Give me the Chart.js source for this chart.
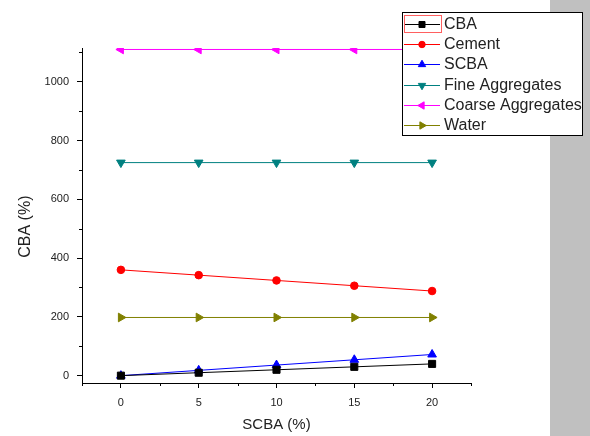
<!DOCTYPE html>
<html>
<head>
<meta charset="utf-8">
<script src="https://cdn.jsdelivr.net/npm/chart.js@4.4.0/dist/chart.umd.min.js"></script>
<style>
  html, body { margin: 0; padding: 0; background: #fff; }
  #wrap { width: 590px; height: 436px; }
</style>
</head>
<body>
<div id="wrap"><canvas id="C" width="590" height="436"></canvas></div>
<script>
const xValues = [0, 5, 10, 15, 20];
const cba = [0, 10, 20, 30, 40];
const cement = [360, 342, 324, 306, 288];
const scba = [0, 18, 36, 54, 72];
const fineAgg = [725, 725, 725, 725, 725];
const coarseAgg = [1110, 1110, 1110, 1110, 1110];
const water = [198, 198, 198, 198, 198];
const yTicks = [0, 200, 400, 600, 800, 1000];
const yMinor = [100, 300, 500, 700, 900, 1100];
const xMinor = [-2.5, 2.5, 7.5, 12.5, 17.5, 22.5];

const font = "'Liberation Sans', Arial, sans-serif";

function series(label, values, color, style, rot, radius) {
  return {
    label: label,
    data: values.map((v, i) => ({ x: xValues[i], y: v })),
    borderColor: color,
    backgroundColor: color,
    borderWidth: 1,
    pointStyle: style,
    rotation: rot,
    pointRadius: radius,
    pointBorderWidth: 1,
    tension: 0
  };
}

const datasets = [
  series("CBA", cba, "#000000", "rect", 0, 5),
  series("Cement", cement, "#ff0000", "circle", 0, 3.8),
  series("SCBA", scba, "#0000ff", "triangle", 0, 5),
  series("Fine Aggregates", fineAgg, "#008080", "triangle", 180, 5),
  series("Coarse Aggregates", coarseAgg, "#ff00ff", "triangle", -90, 5),
  series("Water", water, "#808000", "triangle", 90, 5)
];

// background + grey strip on the right
const bgPlugin = {
  id: "bg",
  beforeDraw(chart) {
    const ctx = chart.ctx;
    ctx.save();
    ctx.fillStyle = "#ffffff";
    ctx.fillRect(0, 0, chart.width, chart.height);
    ctx.fillStyle = "#c0c0c0";
    ctx.fillRect(550, 0, 40, chart.height);
    ctx.restore();
  }
};

// minor ticks
const minorPlugin = {
  id: "minor",
  afterDraw(chart) {
    const ctx = chart.ctx;
    const xs = chart.scales.x, ys = chart.scales.y;
    const a = chart.chartArea;
    ctx.save();
    ctx.strokeStyle = "#000";
    ctx.lineWidth = 1;
    ctx.beginPath();
    yMinor.forEach(v => {
      const y = Math.round(ys.getPixelForValue(v)) + 0.5;
      ctx.moveTo(a.left - 3, y);
      ctx.lineTo(a.left, y);
    });
    xMinor.forEach(v => {
      const x = Math.round(xs.getPixelForValue(v)) + 0.5;
      ctx.moveTo(x, a.bottom);
      ctx.lineTo(x, a.bottom + 3);
    });
    ctx.stroke();
    ctx.restore();
  }
};

// boxed legend drawn over the plot
const legendPlugin = {
  id: "boxLegend",
  afterDraw(chart) {
    const ctx = chart.ctx;
    const x0 = 402, y0 = 12, w = 180, h = 123, row = 20.2;
    ctx.save();
    ctx.fillStyle = "#fff";
    ctx.fillRect(x0, y0, w, h);
    ctx.strokeStyle = "#000";
    ctx.lineWidth = 1;
    ctx.strokeRect(x0 + 0.5, y0 + 0.5, w, h);
    ctx.font = "16px " + font;
    ctx.textBaseline = "middle";
    chart.data.datasets.forEach((ds, i) => {
      const cy = Math.round(y0 + 12 + i * row);
      ctx.strokeStyle = ds.borderColor;
      ctx.lineWidth = 1;
      ctx.beginPath();
      ctx.moveTo(x0 + 2, cy + 0.5);
      ctx.lineTo(x0 + 38, cy + 0.5);
      ctx.stroke();
      ctx.fillStyle = ds.backgroundColor;
      Chart.helpers.drawPoint(ctx, {
        pointStyle: ds.pointStyle,
        rotation: ds.rotation,
        radius: ds.pointRadius * 0.85,
        borderWidth: 1
      }, x0 + 20, cy + 0.5);
      ctx.fillStyle = "#222";
      ctx.fillText(ds.label, x0 + 42, cy + 1);
    });
    // highlight box round the first symbol
    ctx.strokeStyle = "#ff6060";
    ctx.lineWidth = 1;
    ctx.strokeRect(x0 + 2.5, y0 + 3.5, 37, 17);
    ctx.restore();
  }
};

new Chart(document.getElementById("C"), {
  type: "line",
  data: { datasets: datasets },
  plugins: [bgPlugin, minorPlugin, legendPlugin],
  options: {
    responsive: false,
    animation: false,
    layout: { padding: { left: 0, right: 119, top: 48, bottom: 0 } },
    plugins: { legend: { display: false }, tooltip: { enabled: false } },
    scales: {
      x: {
        type: "linear",
        min: -2.5,
        max: 22.5,
        afterBuildTicks(s) { s.ticks = xValues.map(v => ({ value: v })); },
        afterFit(s) { s.height = 53; },
        grid: { drawOnChartArea: false, drawTicks: true, tickLength: 5, color: "#000" },
        border: { display: true, color: "#000", width: 1 },
        ticks: { color: "#222", font: { family: font, size: 11 }, padding: 8, maxRotation: 0 },
        title: { display: true, text: "SCBA (%)", color: "#222", font: { family: font, size: 15 }, padding: 2 }
      },
      y: {
        type: "linear",
        min: -25,
        max: 1115,
        afterBuildTicks(s) { s.ticks = yTicks.map(v => ({ value: v })); },
        afterFit(s) { s.width = 82; },
        grid: { drawOnChartArea: false, drawTicks: true, tickLength: 5, color: "#000" },
        border: { display: true, color: "#000", width: 1 },
        ticks: { color: "#222", font: { family: font, size: 11 }, padding: 8, callback: v => String(v) },
        title: { display: true, text: "CBA (%)     ", color: "#222", font: { family: font, size: 16 }, padding: 16 }
      }
    }
  }
});
</script>
</body>
</html>
